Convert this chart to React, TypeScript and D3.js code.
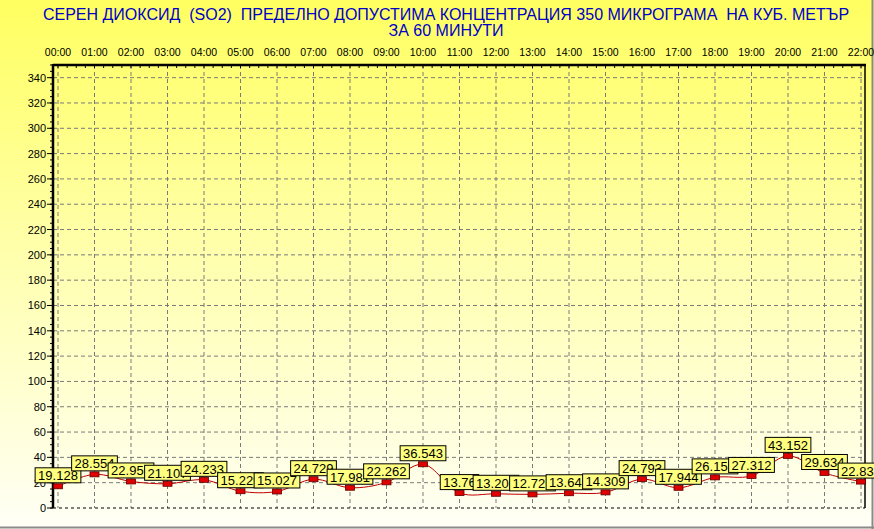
import React from "react";
import * as d3 from "d3";

const hours = [
  "00:00", "01:00", "02:00", "03:00", "04:00", "05:00", "06:00", "07:00",
  "08:00", "09:00", "10:00", "11:00", "12:00", "13:00", "14:00", "15:00",
  "16:00", "17:00", "18:00", "19:00", "20:00", "21:00", "22:00",
];

const so2Values = [
  19.128, 28.554, 22.955, 21.107, 24.233, 15.229, 15.027, 24.729, 17.981,
  22.262, 36.543, 13.76, 13.202, 12.727, 13.646, 14.309, 24.793, 17.944,
  26.159, 27.312, 43.152, 29.634, 22.838,
];

const yTicks = [0, 20, 40, 60, 80, 100, 120, 140, 160, 180, 200, 220, 240, 260, 280, 300, 320, 340];

const titleLines = [
  "СЕРЕН ДИОКСИД  (SO2)  ПРЕДЕЛНО ДОПУСТИМА КОНЦЕНТРАЦИЯ 350 МИКРОГРАМА  НА КУБ. МЕТЪР",
  "ЗА 60 МИНУТИ",
];

const W = 874;
const H = 529;
const FONT = "'Liberation Sans', Arial, sans-serif";

export default function App() {
  // plot frame
  const left = 53;
  const right = 865;
  const top = 65;
  const bottom = 508;

  const x = d3.scalePoint<string>().domain(hours).range([58, 861]);
  const y = d3.scaleLinear().domain([0, 350]).range([bottom, top]);

  // markers sit a little under the value point, like the original
  const py = (v: number) => y(v) + 2.5;

  const line = d3
    .line<number>()
    .x((_, i) => x(hours[i]) as number)
    .y((v) => py(v))
    .curve(d3.curveCatmullRom.alpha(0.5));

  const step = x.step();
  const minorX = d3.range(0, (hours.length - 1) * 4 + 1).map((k) => 58 + (k * step) / 4);
  const minorY = d3.range(0, 351, 5);

  // approx text width for Liberation Sans 13px
  const textW = (s: string) => s.replace(".", "").length * 7.23 + (s.includes(".") ? 3.6 : 0);

  return (
    <svg
      width={W}
      height={H}
      style={{ position: "absolute", left: 0, top: 0, display: "block" }}
      fontFamily={FONT}
    >
      <defs>
        <linearGradient id="bg" x1="0" y1="0" x2="0" y2="1">
          <stop offset="0%" stopColor="#ffff60" />
          <stop offset="50%" stopColor="#ffffb0" />
          <stop offset="100%" stopColor="#fffff6" />
        </linearGradient>
      </defs>
      <rect x={0} y={0} width={W} height={H} fill="url(#bg)" />
      {/* panel border */}
      <line x1={W - 1.5} y1={0} x2={W - 1.5} y2={H} stroke="#8a8a8a" strokeWidth={2} />
      <line x1={0} y1={H - 1.5} x2={W} y2={H - 1.5} stroke="#8a8a8a" strokeWidth={2} />

      {/* title */}
      {titleLines.map((t, i) => (
        <text
          key={i}
          x={446}
          y={20 + i * 16}
          textAnchor="middle"
          fontSize={16}
          fill="#0000c8"
          style={{ whiteSpace: "pre" }}
        >
          {t}
        </text>
      ))}

      {/* grid */}
      {hours.map((h) => (
        <line
          key={h}
          x1={x(h)}
          x2={x(h)}
          y1={top}
          y2={bottom}
          stroke="#7a7a7a"
          strokeDasharray="4,3"
        />
      ))}
      {yTicks.filter((t) => t > 0).map((t) => (
        <line
          key={t}
          x1={left}
          x2={right}
          y1={y(t)}
          y2={y(t)}
          stroke="#7a7a7a"
          strokeDasharray="4,3"
        />
      ))}

      {/* frame */}
      <line x1={left} x2={right} y1={bottom} y2={bottom} stroke="#000" strokeDasharray="3,3" />
      <line x1={right} x2={right} y1={top} y2={bottom} stroke="#000" strokeWidth={1.5} />
      <line x1={left} x2={right + 1} y1={top} y2={top} stroke="#000" strokeWidth={2.5} />
      <line x1={left} x2={left} y1={top - 1} y2={bottom} stroke="#000" strokeWidth={2.5} />

      {/* top axis ticks + labels */}
      {minorX.map((mx, i) => (
        <line key={i} x1={mx} x2={mx} y1={top} y2={top + 3} stroke="#000" />
      ))}
      {hours.map((h) => (
        <text key={h} x={x(h)} y={56} textAnchor="middle" fontSize={10.5} fill="#000">
          {h}
        </text>
      ))}

      {/* left axis ticks + labels */}
      {minorY.map((t) => (
        <line key={t} x1={left - 3} x2={left} y1={y(t)} y2={y(t)} stroke="#000" />
      ))}
      {yTicks.map((t) => (
        <g key={t}>
          <line x1={left - 6} x2={left} y1={y(t)} y2={y(t)} stroke="#000" />
          <text x={46} y={y(t) + 4} textAnchor="end" fontSize={11} fill="#000">
            {t}
          </text>
        </g>
      ))}

      {/* series */}
      <path d={line(so2Values) as string} fill="none" stroke="#c00000" strokeWidth={1} />
      {so2Values.map((v, i) => (
        <rect
          key={i}
          x={(x(hours[i]) as number) - 4.5}
          y={py(v) - 2.5}
          width={9}
          height={5}
          fill="#e00000"
          stroke="#600000"
          strokeWidth={0.8}
        />
      ))}
      {so2Values.map((v, i) => {
        const s = String(v);
        const bw = textW(s) + 6;
        const cx = x(hours[i]) as number;
        const by = y(v) - 16;
        return (
          <g key={i}>
            <rect
              x={cx - bw / 2}
              y={by}
              width={bw}
              height={15}
              fill="#ffff80"
              stroke="#000"
              strokeWidth={1}
            />
            <text x={cx} y={by + 12.5} textAnchor="middle" fontSize={13} fill="#000">
              {s}
            </text>
          </g>
        );
      })}
    </svg>
  );
}
